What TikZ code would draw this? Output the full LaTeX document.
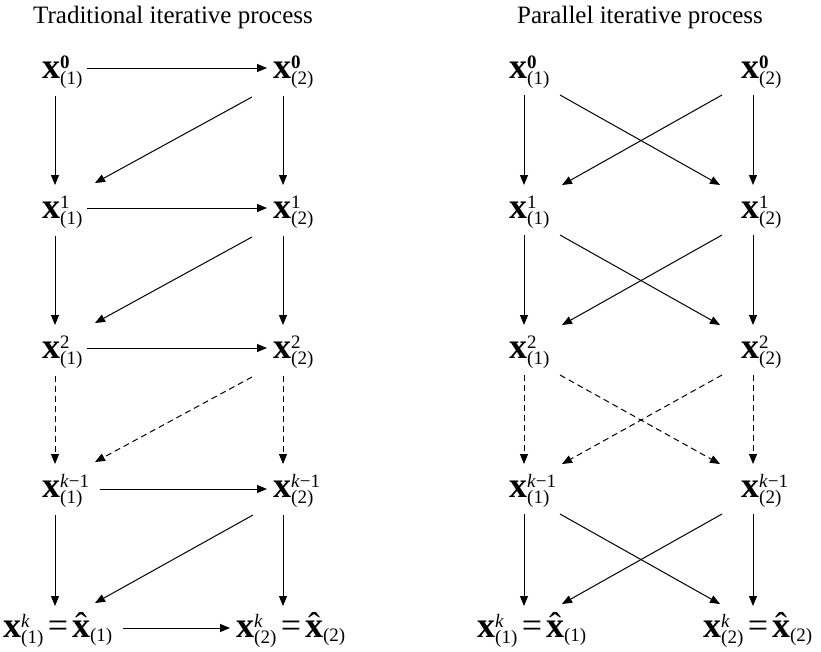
\documentclass[tikz,border=0pt]{standalone}
\usepackage{fontspec}
\setmainfont{Liberation Serif}
\usetikzlibrary{arrows.meta}
\newlength{\xw}
\newcommand{\scr}[1]{\mbox{\fontsize{19}{19}\selectfont #1}}
\newcommand{\xvec}[2]{\textbf{x}$^{\scr{#1}}_{\scr{#2}}$}
\newcommand{\xhat}[1]{\settowidth{\xw}{\textbf{x}}\rlap{\textbf{x}}\makebox[\xw]{\char"02C6}$_{\scr{#1}}$}
\tikzset{
  lbl/.style={inner sep=0pt, anchor=base west, font=\fontsize{36}{42}\selectfont},
  ttl/.style={inner sep=0pt, anchor=base, font=\fontsize{25}{30}\selectfont},
  arr/.style={-{Triangle[length=10pt,width=8pt]}, line width=1pt},
  dsh/.style={arr, dash pattern=on 6pt off 4pt}
}

\begin{document}
\begin{tikzpicture}[x=1pt, y=-1pt]
  \useasboundingbox (0,0) rectangle (821,651);

  \node[ttl] (tl) at (173,23) {Traditional iterative process};
  \node[ttl] (pl) at (640,23) {Parallel iterative process};

  % traditional
  \node[lbl] (t0a) at (42,78)  {\xvec{\bfseries 0}{(1)}};
  \node[lbl] (t0b) at (273,78) {\xvec{\bfseries 0}{(2)}};
  \node[lbl] (t1a) at (42,218)  {\xvec{1}{(1)}};
  \node[lbl] (t1b) at (273,218) {\xvec{1}{(2)}};
  \node[lbl] (t2a) at (42,358)  {\xvec{2}{(1)}};
  \node[lbl] (t2b) at (273,358) {\xvec{2}{(2)}};
  \node[lbl] (t3a) at (42,497)  {\xvec{\textit{k}−1}{(1)}};
  \node[lbl] (t3b) at (273,497) {\xvec{\textit{k}−1}{(2)}};
  \node[lbl] (t4a) at (3,637)   {\xvec{\textit{k}}{(1)}\hspace{4pt}=\hspace{4pt}\xhat{(1)}};
  \node[lbl] (t4b) at (236,637) {\xvec{\textit{k}}{(2)}\hspace{4pt}=\hspace{4pt}\xhat{(2)}};

  \draw[arr] ([shift={(13,18)}]t0a.base west) -- ([shift={(13,-33)}]t1a.base west);
  \draw[arr] ([shift={(13,18)}]t1a.base west) -- ([shift={(13,-33)}]t2a.base west);
  \draw[dsh] ([shift={(13,18)}]t2a.base west) -- ([shift={(13,-33)}]t3a.base west);
  \draw[arr] ([shift={(13,18)}]t3a.base west) -- ([shift={(52,-31)}]t4a.base west);
  \draw[arr] ([shift={(10,18)}]t0b.base west) -- ([shift={(10,-33)}]t1b.base west);
  \draw[arr] ([shift={(10,18)}]t1b.base west) -- ([shift={(10,-33)}]t2b.base west);
  \draw[dsh] ([shift={(10,18)}]t2b.base west) -- ([shift={(10,-33)}]t3b.base west);
  \draw[arr] ([shift={(10,18)}]t3b.base west) -- ([shift={(47,-31)}]t4b.base west);

  \draw[arr] ([shift={(45,-10)}]t0a.base west) -- ([shift={(-6,-10)}]t0b.base west);
  \draw[arr] ([shift={(45,-10)}]t1a.base west) -- ([shift={(-6,-10)}]t1b.base west);
  \draw[arr] ([shift={(45,-10)}]t2a.base west) -- ([shift={(-6,-10)}]t2b.base west);
  \draw[arr] ([shift={(58,-8)}]t3a.base west) -- ([shift={(-6,-8)}]t3b.base west);
  \draw[arr] ([shift={(120,-9)}]t4a.base west) -- ([shift={(-6,-9)}]t4b.base west);

  \draw[arr] ([shift={(-21,19)}]t0b.base west) -- ([shift={(53,-35)}]t1a.base west);
  \draw[arr] ([shift={(-21,19)}]t1b.base west) -- ([shift={(53,-35)}]t2a.base west);
  \draw[dsh] ([shift={(-21,19)}]t2b.base west) -- ([shift={(53,-35)}]t3a.base west);
  \draw[arr] ([shift={(-20,18)}]t3b.base west) -- ([shift={(92,-34)}]t4a.base west);

  % parallel
  \node[lbl] (p0a) at (509,78)  {\xvec{\bfseries 0}{(1)}};
  \node[lbl] (p0b) at (741,78)  {\xvec{\bfseries 0}{(2)}};
  \node[lbl] (p1a) at (509,218) {\xvec{1}{(1)}};
  \node[lbl] (p1b) at (741,218) {\xvec{1}{(2)}};
  \node[lbl] (p2a) at (509,358) {\xvec{2}{(1)}};
  \node[lbl] (p2b) at (741,358) {\xvec{2}{(2)}};
  \node[lbl] (p3a) at (509,497) {\xvec{\textit{k}−1}{(1)}};
  \node[lbl] (p3b) at (741,497) {\xvec{\textit{k}−1}{(2)}};
  \node[lbl] (p4a) at (477,637) {\xvec{\textit{k}}{(1)}\hspace{4pt}=\hspace{4pt}\xhat{(1)}};
  \node[lbl] (p4b) at (703,637) {\xvec{\textit{k}}{(2)}\hspace{4pt}=\hspace{4pt}\xhat{(2)}};

  \draw[arr] ([shift={(15,17)}]p0a.base west) -- ([shift={(15,-33)}]p1a.base west);
  \draw[arr] ([shift={(15,17)}]p1a.base west) -- ([shift={(15,-33)}]p2a.base west);
  \draw[dsh] ([shift={(15,17)}]p2a.base west) -- ([shift={(15,-33)}]p3a.base west);
  \draw[arr] ([shift={(15,17)}]p3a.base west) -- ([shift={(47,-31)}]p4a.base west);
  \draw[arr] ([shift={(12,17)}]p0b.base west) -- ([shift={(12,-33)}]p1b.base west);
  \draw[arr] ([shift={(12,17)}]p1b.base west) -- ([shift={(12,-33)}]p2b.base west);
  \draw[dsh] ([shift={(12,17)}]p2b.base west) -- ([shift={(12,-33)}]p3b.base west);
  \draw[arr] ([shift={(12,17)}]p3b.base west) -- ([shift={(50,-31)}]p4b.base west);

  \draw[arr] ([shift={(51,17)}]p0a.base west) -- ([shift={(-21,-33)}]p1b.base west);
  \draw[arr] ([shift={(51,17)}]p1a.base west) -- ([shift={(-21,-33)}]p2b.base west);
  \draw[dsh] ([shift={(51,17)}]p2a.base west) -- ([shift={(-21,-33)}]p3b.base west);
  \draw[arr] ([shift={(51,17)}]p3a.base west) -- ([shift={(17,-33)}]p4b.base west);
  \draw[arr] ([shift={(-19,17)}]p0b.base west) -- ([shift={(53,-33)}]p1a.base west);
  \draw[arr] ([shift={(-19,17)}]p1b.base west) -- ([shift={(53,-33)}]p2a.base west);
  \draw[dsh] ([shift={(-19,17)}]p2b.base west) -- ([shift={(53,-33)}]p3a.base west);
  \draw[arr] ([shift={(-19,17)}]p3b.base west) -- ([shift={(85,-33)}]p4a.base west);
\end{tikzpicture}
\end{document}
